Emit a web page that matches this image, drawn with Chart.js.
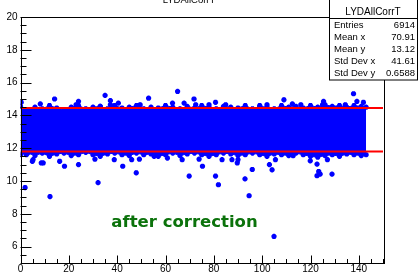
<!DOCTYPE html>
<html>
<head>
<meta charset="utf-8">
<script src="https://cdn.jsdelivr.net/npm/chart.js@4"></script>
<style>
  body { margin: 0; background: #fff; }
  canvas { display: block; }
</style>
</head>
<body>
<canvas id="chart" width="418" height="273"></canvas>
<script>
// Data
const histName = "LYDAllCorrT";
const statLabels = ["Entries", "Mean x", "Mean y", "Std Dev x", "Std Dev y"];
const statValues = ["6914", "70.91", "13.12", "41.61", "0.6588"];

const xTicks = [0, 20, 40, 60, 80, 100, 120, 140];
const yTicks = [6, 8, 10, 12, 14, 16, 18, 20];

// dense band: upper and lower edge of the solid blue region
const bandX = [0, 3, 6, 9, 12, 15, 18, 21, 24, 27, 30, 33, 36, 39, 42, 45, 48, 51, 54, 57,
  60, 63, 66, 69, 72, 75, 78, 81, 84, 87, 90, 93, 96, 99, 102, 105, 108, 111, 114, 117,
  120, 123, 126, 129, 132, 135, 138, 141, 143];
const bandTop = [14.55, 14.35, 14.5, 14.4, 14.6, 14.45, 14.35, 14.5, 14.6, 14.4, 14.5, 14.55,
  14.4, 14.6, 14.45, 14.5, 14.6, 14.4, 14.5, 14.45, 14.6, 14.5, 14.4, 14.55, 14.45, 14.6,
  14.5, 14.4, 14.55, 14.5, 14.45, 14.6, 14.4, 14.55, 14.5, 14.4, 14.6, 14.5, 14.55, 14.45,
  14.6, 14.5, 14.65, 14.55, 14.6, 14.5, 14.6, 14.55, 14.5];
const bandBottom = [11.6, 11.7, 11.55, 11.7, 11.5, 11.65, 11.7, 11.55, 11.6, 11.75, 11.6, 11.5,
  11.65, 11.7, 11.6, 11.55, 11.7, 11.6, 11.65, 11.5, 11.6, 11.7, 11.55, 11.65, 11.7, 11.6,
  11.5, 11.6, 11.7, 11.65, 11.55, 11.6, 11.7, 11.6, 11.5, 11.65, 11.6, 11.55, 11.7, 11.6,
  11.5, 11.45, 11.55, 11.6, 11.5, 11.65, 11.6, 11.55, 11.6];

// isolated points outside the band
const outX = [0.3, 8.2, 14.1, 23, 24, 33, 35, 37.2, 37.2, 40.5, 48.6, 49.5, 53, 62.9, 65, 67.7,
  71.8, 72.5, 78, 80.7, 84.9, 99, 102, 109, 112.5, 116, 125.4, 125, 134.4, 137.8, 139.2, 141.9,
  2.4, 1.9, 4.9, 5.2, 8.6, 9.4, 12.2, 16.2, 18.2, 24, 30.8, 32.1, 38.8, 42.3, 46, 47.9, 49.2,
  55.3, 60.8, 66.9, 69.8, 73.9, 75.3, 80.7, 81.9, 83.4, 87.5, 89.7, 90, 92.9, 94.6, 95.9, 103,
  104.1, 104.9, 105.5, 112.8, 119.9, 122.7, 123.4, 124, 122.7, 127, 128.9];
const outY = [14.8, 14.7, 15.0, 14.65, 14.85, 14.55, 15.22, 14.9, 14.65, 14.75, 14.5, 14.65, 15.05,
  14.75, 15.46, 14.75, 15.0, 14.65, 14.65, 14.8, 14.65, 14.6, 14.65, 14.95, 14.7, 14.65, 14.85,
  14.65, 14.65, 15.32, 14.85, 14.8,
  11.6, 9.6, 11.2, 11.3, 11.1, 11.1, 9.05, 11.2, 10.9, 11.0, 11.33, 9.9, 11.3, 10.9, 11.3, 10.5,
  11.33, 11.5, 11.4, 11.3, 10.3, 11.33, 10.9, 10.3, 9.77, 11.3, 11.3, 11.1, 11.3, 10.13, 9.1,
  10.7, 11.0, 10.68, 6.62, 11.3, 11.54, 11.23, 11.03, 10.58, 10.42, 10.32, 11.3, 10.42];

// cut lines
const cutX = [0, 150];
const cutHigh = 14.45;
const cutLow = 11.8;

const BLUE = "#0000ff";
const FONT = "'Liberation Sans', Arial, sans-serif";

const pts = (xs, ys) => xs.map((x, i) => ({ x: x, y: Array.isArray(ys) ? ys[i] : ys }));

const markerStyle = {
  pointStyle: "star",
  pointRadius: 2.6,
  pointBorderWidth: 1.8,
  pointBorderColor: BLUE,
  pointBackgroundColor: BLUE,
  pointHoverRadius: 2.6
};

// ROOT-like frame, inner ticks, stats box and text
const rootDecor = {
  id: "rootDecor",
  afterDatasetsDraw(chart) {
    const ctx = chart.ctx;
    const a = chart.chartArea;
    const xs = chart.scales.x, ys = chart.scales.y;
    ctx.save();
    ctx.strokeStyle = "#000";
    ctx.lineWidth = 1;

    // frame
    ctx.strokeRect(Math.round(a.left) + 0.5, Math.round(a.top) + 0.5,
      Math.round(a.right - a.left), Math.round(a.bottom - a.top));

    // x ticks (inside, pointing up)
    ctx.beginPath();
    for (let v = 0; v <= 150; v += 5) {
      const px = Math.round(xs.getPixelForValue(v)) + 0.5;
      const len = v % 20 === 0 ? 7.5 : 4;
      ctx.moveTo(px, a.bottom);
      ctx.lineTo(px, a.bottom - len);
    }
    // y ticks (inside, pointing right)
    for (let v = 5; v <= 20; v += 0.5) {
      const py = Math.round(ys.getPixelForValue(v)) + 0.5;
      const len = v % 2 === 0 ? 11 : 6;
      ctx.moveTo(a.left, py);
      ctx.lineTo(a.left + len, py);
    }
    ctx.stroke();

    // label text
    ctx.fillStyle = "#0b720b";
    ctx.font = "bold 16.5px 'DejaVu Sans', sans-serif";
    ctx.textBaseline = "alphabetic";
    ctx.textAlign = "left";
    ctx.fillText("after correction", xs.getPixelForValue(37.6), ys.getPixelForValue(7.22));

    // title, mostly cut off at top
    ctx.fillStyle = "#000";
    ctx.font = "9.5px " + FONT;
    ctx.textAlign = "center";
    ctx.fillText(histName, 189, 2.5);

    // stats box
    const bx = 329.5, by = -0.5, bw = 88, bh = 80.5;
    ctx.fillStyle = "#fff";
    ctx.fillRect(bx, by, bw, bh);
    ctx.strokeRect(bx, by, bw, bh);
    ctx.beginPath();
    ctx.moveTo(bx, 18.5);
    ctx.lineTo(bx + bw, 18.5);
    ctx.stroke();
    ctx.fillStyle = "#000";
    ctx.font = "10px " + FONT;
    ctx.textBaseline = "middle";
    ctx.textAlign = "center";
    ctx.fillText(histName, 373, 12);
    ctx.font = "9.5px " + FONT;
    statLabels.forEach((lab, i) => {
      const ry = 25.5 + i * 12;
      ctx.textAlign = "left";
      ctx.fillText(lab, 334, ry);
      ctx.textAlign = "right";
      ctx.fillText(statValues[i], 415, ry);
    });
    ctx.restore();
  }
};

new Chart(document.getElementById("chart"), {
  type: "scatter",
  data: {
    datasets: [
      {
        label: "cut high",
        data: pts(cutX, cutHigh),
        showLine: true,
        borderColor: "#ff0000",
        borderWidth: 2,
        pointRadius: 0,
        order: 0
      },
      {
        label: "cut low",
        data: pts(cutX, cutLow),
        showLine: true,
        borderColor: "#ff0000",
        borderWidth: 2,
        pointRadius: 0,
        order: 0
      },
      {
        label: "band top",
        data: pts(bandX, bandTop),
        showLine: true,
        borderColor: BLUE,
        borderWidth: 1,
        backgroundColor: BLUE,
        fill: "+1",
        order: 1,
        ...markerStyle
      },
      {
        label: "band bottom",
        data: pts(bandX, bandBottom),
        showLine: true,
        borderColor: BLUE,
        borderWidth: 1,
        order: 1,
        ...markerStyle
      },
      {
        label: "outliers",
        data: pts(outX, outY),
        order: 1,
        ...markerStyle
      }
    ]
  },
  options: {
    responsive: false,
    animation: false,
    devicePixelRatio: 1,
    layout: { padding: { top: 17, right: 35, left: 0, bottom: 0 } },
    plugins: {
      legend: { display: false },
      tooltip: { enabled: false }
    },
    scales: {
      x: {
        type: "linear",
        min: 0,
        max: 150,
        grid: { display: false, drawTicks: false },
        border: { display: false },
        afterBuildTicks: (s) => { s.ticks = xTicks.map(v => ({ value: v })); },
        afterFit: (s) => { s.height = 10; },
        ticks: {
          padding: 0,
          maxRotation: 0,
          color: "#000",
          font: { family: FONT, size: 10 }
        }
      },
      y: {
        type: "linear",
        min: 5,
        max: 20,
        grid: { display: false, drawTicks: false },
        border: { display: false },
        afterBuildTicks: (s) => { s.ticks = yTicks.map(v => ({ value: v })); },
        afterFit: (s) => { s.width = 20.5; },
        ticks: {
          padding: 3,
          color: "#000",
          font: { family: FONT, size: 10 }
        }
      }
    }
  },
  plugins: [rootDecor]
});
</script>
</body>
</html>
